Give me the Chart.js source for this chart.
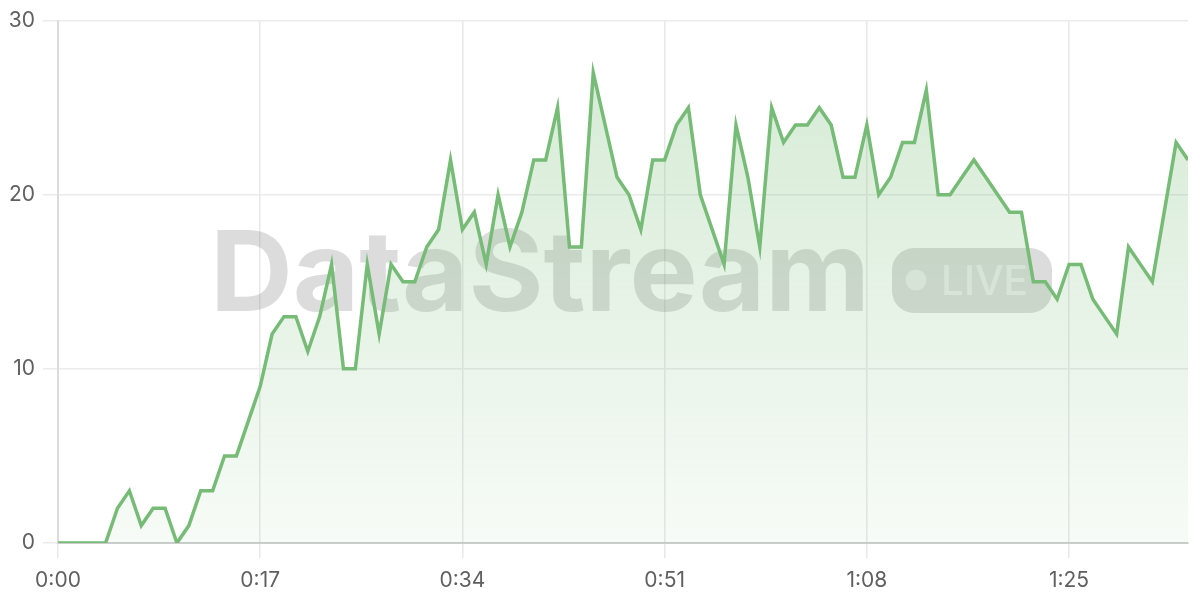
<!DOCTYPE html>
<html>
<head>
<meta charset="utf-8">
<title>DataStream live</title>
<script src="https://cdn.jsdelivr.net/npm/chart.js@4.4.1/dist/chart.umd.min.js"></script>
<style>
  html, body { margin: 0; padding: 0; background: #fff; }
  #wrap { width: 1200px; height: 600px; position: relative; }
</style>
</head>
<body>
<div id="wrap"><canvas id="live-chart"></canvas></div>
<script>
// elapsed seconds, one sample per second
const seconds = [
  0, 1, 2, 3, 4, 5, 6, 7, 8, 9, 10, 11, 12, 13, 14, 15, 16, 17, 18, 19,
  20, 21, 22, 23, 24, 25, 26, 27, 28, 29, 30, 31, 32, 33, 34, 35, 36, 37, 38, 39,
  40, 41, 42, 43, 44, 45, 46, 47, 48, 49, 50, 51, 52, 53, 54, 55, 56, 57, 58, 59,
  60, 61, 62, 63, 64, 65, 66, 67, 68, 69, 70, 71, 72, 73, 74, 75, 76, 77, 78, 79,
  80, 81, 82, 83, 84, 85, 86, 87, 88, 89, 90, 91, 92, 93, 94, 95
];
const values = [
  0, 0, 0, 0, 0, 2, 3, 1, 2, 2, 0, 1, 3, 3, 5, 5, 7, 9, 12, 13,
  13, 11, 13, 16, 10, 10, 16, 12, 16, 15, 15, 17, 18, 22, 18, 19, 16, 20, 17, 19,
  22, 22, 25, 17, 17, 27, 24, 21, 20, 18, 22, 22, 24, 25, 20, 18, 16, 24, 21, 17,
  25, 23, 24, 24, 25, 24, 21, 21, 24, 20, 21, 23, 23, 26, 20, 20, 21, 22, 21, 20,
  19, 19, 15, 15, 14, 16, 16, 14, 13, 12, 17, 16, 15, 19, 23, 22
];
const xTicks = [0, 17, 34, 51, 68, 85];
const yTicks = [0, 10, 20, 30];

const GREEN = '#76bb76';
const TICK_FONT = { family: 'Inter, "Open Sans", sans-serif', size: 21 };

function fmtTime(v) {
  const m = Math.floor(v / 60);
  const s = v % 60;
  return m + ':' + (s < 10 ? '0' : '') + s;
}

// watermark behind the line
const watermark = {
  id: 'watermark',
  beforeDatasetsDraw(chart) {
    const ctx = chart.ctx;
    ctx.save();
    ctx.fillStyle = 'rgba(120,120,120,0.26)';
    ctx.font = 'bold 112px Inter, "Liberation Sans", sans-serif';
    ctx.textBaseline = 'alphabetic';
    const txt = 'DataStream';
    const w = ctx.measureText(txt).width;
    ctx.translate(210, 311);
    ctx.scale(660 / w, 1);
    ctx.fillText(txt, 0, 0);
    ctx.restore();

    // LIVE pill
    ctx.save();
    ctx.fillStyle = 'rgba(120,120,120,0.26)';
    ctx.beginPath();
    ctx.roundRect(892, 248, 160, 65, 22);
    ctx.fill();
    ctx.fillStyle = 'rgba(255,255,255,0.5)';
    ctx.beginPath();
    ctx.arc(916, 280, 10.5, 0, Math.PI * 2);
    ctx.fill();
    ctx.font = '500 41px Inter, "Liberation Sans", sans-serif';
    ctx.textBaseline = 'alphabetic';
    const lw = ctx.measureText('LIVE').width;
    ctx.translate(941, 295);
    ctx.scale(87 / lw, 1);
    ctx.fillText('LIVE', 0, 0);
    ctx.restore();
  }
};

function init() {
  const canvasEl = document.getElementById('live-chart');
  if (!canvasEl || typeof Chart === 'undefined') return;

  new Chart(canvasEl, {
    type: 'line',
    data: {
      labels: seconds,
      datasets: [{
        data: values,
        borderColor: GREEN,
        borderWidth: 3.5,
        tension: 0,
        pointRadius: 0,
        fill: 'origin',
        backgroundColor: function(ctx) {
          const area = ctx.chart.chartArea;
          if (!area) return 'rgba(118,187,118,0.2)';
          const g = ctx.chart.ctx.createLinearGradient(0, area.top, 0, area.bottom);
          g.addColorStop(0, 'rgba(118,187,118,0.32)');
          g.addColorStop(1, 'rgba(118,187,118,0.06)');
          return g;
        }
      }]
    },
    options: {
      responsive: true,
      maintainAspectRatio: false,
      animation: false,
      layout: { padding: { top: 20, right: 12, left: 0, bottom: 0 } },
      plugins: { legend: { display: false }, tooltip: { enabled: false } },
      scales: {
        x: {
          type: 'linear',
          min: 0,
          max: 95,
          afterBuildTicks: function(scale) { scale.ticks = xTicks.map(function(v) { return { value: v }; }); },
          afterFit: function(scale) { scale.height = 57; },
          ticks: { color: '#606060', font: TICK_FONT, padding: 10, maxRotation: 0, callback: fmtTime },
          grid: { color: '#e8e8e8', lineWidth: 1.5, tickLength: 15, tickColor: '#e8e8e8' },
          border: { color: '#cccccc', width: 2 }
        },
        y: {
          min: 0,
          max: 30,
          afterBuildTicks: function(scale) { scale.ticks = yTicks.map(function(v) { return { value: v }; }); },
          afterFit: function(scale) { scale.width = 58; },
          ticks: { color: '#606060', font: TICK_FONT, padding: 8 },
          grid: { color: '#ebebeb', lineWidth: 1.5, tickLength: 15, tickColor: '#ebebeb' },
          border: { color: '#dcdcdc', width: 2 }
        }
      }
    },
    plugins: [watermark]
  });
}

document.addEventListener('DOMContentLoaded', init);
</script>
</body>
</html>
